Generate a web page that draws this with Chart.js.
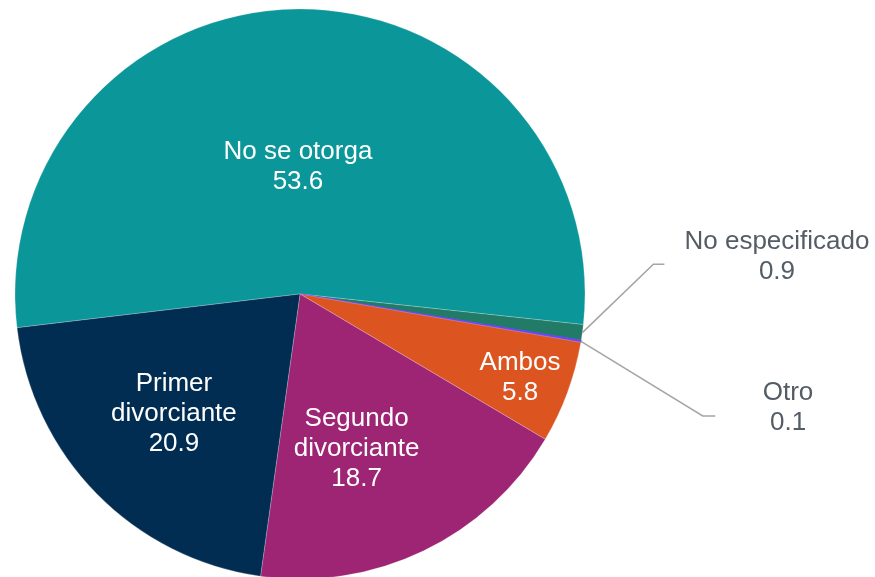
<!DOCTYPE html>
<html>
<head>
<meta charset="utf-8">
<script src="https://cdn.jsdelivr.net/npm/chart.js@4/dist/chart.umd.min.js"></script>
<style>
  html, body { margin: 0; padding: 0; background: #ffffff; overflow: hidden; }
  #wrap { position: relative; width: 875px; height: 577px; }
</style>
</head>
<body>
<div id="wrap"><canvas id="c" width="875" height="577"></canvas></div>
<script>
// ---- Data ----
const categories = ['No se otorga', 'No especificado', 'Otro', 'Ambos', 'Segundo divorciante', 'Primer divorciante'];
const labelLines = [['No se otorga'], ['No especificado'], ['Otro'], ['Ambos'], ['Segundo', 'divorciante'], ['Primer', 'divorciante']];
const values = [53.6, 0.9, 0.1, 5.8, 18.7, 20.9];
const valueText = ['53.6', '0.9', '0.1', '5.8', '18.7', '20.9'];

// ---- Styles ----
const sliceColors = ['#0B979A', '#217B67', '#6A44FA', '#DC5521', '#9E2474', '#022D52'];
const sliceBorders = ['rgba(255,255,255,0.45)', 'rgba(255,255,255,0.45)', '#6A44FA', 'rgba(255,255,255,0.45)', 'rgba(255,255,255,0.45)', 'rgba(255,255,255,0.45)'];
const sliceBorderWidths = [0.5, 0.5, 1.4, 0.5, 0.5, 0.5];
const labelStyle = [
  { inside: true, frac: 0.448, dAng: -0.6 },
  { inside: false, elbow: [71, -68.4], end: [82, -68.4], text: [194.6, -75.9] },
  { inside: false, elbow: [121.7, 74.6], end: [134.3, 74.6], text: [207, 66.8] },
  { inside: true, frac: 0.826, dAng: 0.6 },
  { inside: true, frac: 0.578, dAng: 5.6 },
  { inside: true, frac: 0.61, dAng: 0.9 }
];

const labelPlugin = {
  id: 'sliceLabels',
  afterDatasetsDraw(chart) {
    const ctx = chart.ctx;
    const meta = chart.getDatasetMeta(0);
    ctx.save();
    ctx.font = '26px "Liberation Sans", Arial, sans-serif';
    ctx.textAlign = 'center';
    ctx.textBaseline = 'middle';
    const lh = 30;
    meta.data.forEach((arc, i) => {
      const p = arc.getProps(['x', 'y', 'startAngle', 'endAngle', 'outerRadius'], true);
      const st = labelStyle[i];
      const lines = labelLines[i].concat([valueText[i]]);
      const mid = (p.startAngle + p.endAngle) / 2;
      let cx, cy;
      if (st.inside) {
        const a = mid + st.dAng * Math.PI / 180;
        const r = p.outerRadius * st.frac;
        cx = p.x + Math.cos(a) * r;
        cy = p.y + Math.sin(a) * r;
        ctx.fillStyle = '#ffffff';
      } else {
        const ex = p.x + Math.cos(mid) * p.outerRadius;
        const ey = p.y + Math.sin(mid) * p.outerRadius;
        ctx.strokeStyle = '#A6A6A6';
        ctx.lineWidth = 1.6;
        ctx.beginPath();
        ctx.moveTo(ex, ey);
        ctx.lineTo(ex + st.elbow[0], ey + st.elbow[1]);
        ctx.lineTo(ex + st.end[0], ey + st.end[1]);
        ctx.stroke();
        cx = ex + st.text[0];
        cy = ey + st.text[1];
        ctx.fillStyle = '#545C66';
      }
      const n = lines.length;
      lines.forEach((t, k) => {
        ctx.fillText(t, cx, cy + (k - (n - 1) / 2) * lh);
      });
    });
    ctx.restore();
  }
};

new Chart(document.getElementById('c'), {
  type: 'pie',
  data: {
    labels: categories,
    datasets: [{
      data: values,
      backgroundColor: sliceColors,
      borderColor: sliceBorders,
      borderWidth: sliceBorderWidths,
      clip: false
    }]
  },
  options: {
    responsive: false,
    animation: false,
    rotation: 263.2,
    radius: 285,
    layout: { padding: { left: 0, right: 275, top: 11, bottom: 0 } },
    plugins: {
      legend: { display: false },
      tooltip: { enabled: false }
    },
    events: []
  },
  plugins: [labelPlugin]
});
</script>
</body>
</html>
